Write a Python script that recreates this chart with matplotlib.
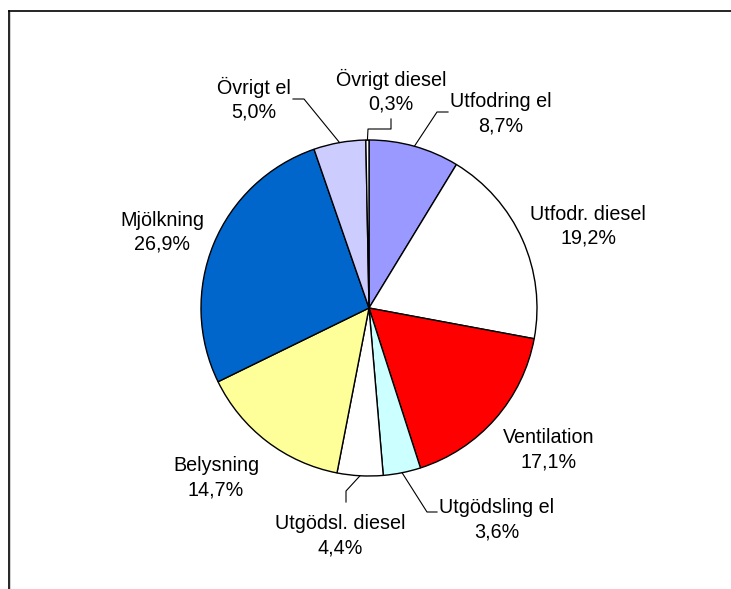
import numpy as np
import matplotlib
matplotlib.use("Agg")
import matplotlib.pyplot as plt

plt.rcParams['font.family'] = ['Liberation Sans', 'DejaVu Sans']

# andelar av energianvändningen, medurs från toppen
labels = ['Utfodring el', 'Utfodr. diesel', 'Ventilation', 'Utgödsling el',
          'Utgödsl. diesel', 'Belysning', 'Mjölkning', 'Övrigt el', 'Övrigt diesel']
shares = [8.7, 19.2, 17.1, 3.6, 4.4, 14.7, 26.9, 5.0, 0.3]
colors = ['#9999FF', '#FFFFFF', '#FF0000', '#CCFFFF', '#FFFFFF',
          '#FFFF99', '#0066CC', '#CCCCFF', '#FFFFFF']

# etikettpositioner (pixlar, y nedåt): mitt x, baslinje rad 1
label_pos = {
    'Utfodring el': (501, 107),
    'Utfodr. diesel': (588, 220),
    'Ventilation': (549, 443),
    'Utgödsling el': (497, 513),
    'Utgödsl. diesel': (340, 529),
    'Belysning': (216, 471),
    'Mjölkning': (162, 226),
    'Övrigt el': (254, 94),
    'Övrigt diesel': (391, 86),
}
# brytpunkter för hänvisningslinjer
leaders = {
    'Övrigt diesel': [(368, 129), (391, 129), (391, 119)],
    'Övrigt el': [(304, 99), (293, 99)],
    'Utfodring el': [(437, 112), (448, 112)],
    'Utgödsling el': [(427, 512), (437, 512)],
    'Utgödsl. diesel': [(346, 491), (346, 502)],
}

W, H = 731, 589
cx, cy, r = 369, 308, 168

fig = plt.figure(figsize=(W / 100, H / 100), dpi=100)
ax = fig.add_axes([0, 0, 1, 1])

wedges, _ = ax.pie(shares, colors=colors, startangle=-90, counterclock=True,
                   center=(cx, cy), radius=r,
                   wedgeprops=dict(edgecolor='black', linewidth=1.0))
ax.set_xlim(0, W)
ax.set_ylim(H, 0)
ax.set_aspect('auto')
ax.axis('off')

for w, lab, val in zip(wedges, labels, shares):
    x, yb = label_pos[lab]
    ax.text(x, yb, lab, ha='center', va='baseline', fontsize=14.2)
    ax.text(x, yb + 24, f"{val:.1f}%".replace('.', ','), ha='center',
            va='baseline', fontsize=14.2)
    if lab in leaders:
        t = np.deg2rad((w.theta1 + w.theta2) / 2)
        pts = [(cx + r * np.cos(t), cy + r * np.sin(t))] + leaders[lab]
        xs, ys = zip(*pts)
        ax.plot(xs, ys, color='black', linewidth=0.8)

# ram (bara vänster och övre kant syns)
ax.plot([8.5, 8.5], [10.5, H], color='black', linewidth=1.2, clip_on=False)
ax.plot([8.5, W], [10.5, 10.5], color='black', linewidth=1.2, clip_on=False)
ax.plot([10, 10], [12, H], color='#c8c8c8', linewidth=0.6)

fig.savefig('out.png', dpi=100)
